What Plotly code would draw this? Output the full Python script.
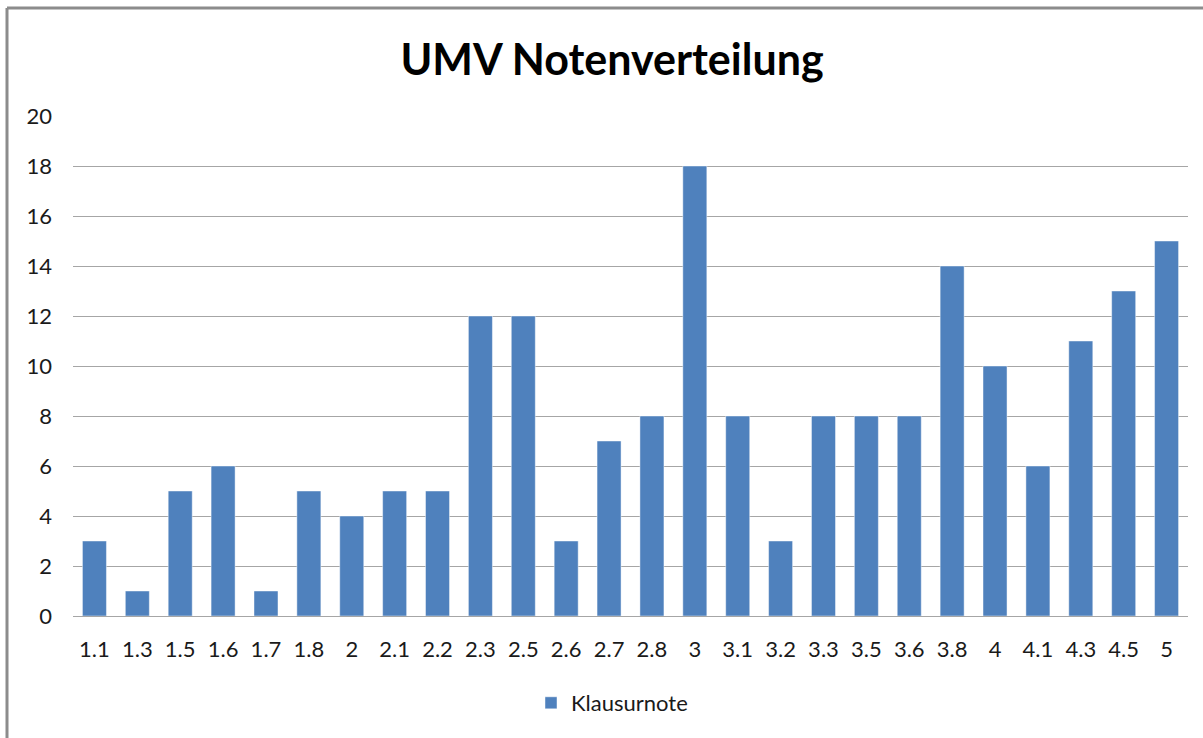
import plotly.graph_objects as go

categories = ["1.1", "1.3", "1.5", "1.6", "1.7", "1.8", "2", "2.1", "2.2", "2.3", "2.5", "2.6", "2.7",
              "2.8", "3", "3.1", "3.2", "3.3", "3.5", "3.6", "3.8", "4", "4.1", "4.3", "4.5", "5"]
values = [3, 1, 5, 6, 1, 5, 4, 5, 5, 12, 12, 3, 7, 8, 18, 8, 3, 8, 8, 8, 14, 10, 6, 11, 13, 15]
series_name = "Klausurnote"
y_ticks = [0, 2, 4, 6, 8, 10, 12, 14, 16, 18, 20]

FONT = "Lato, 'Open Sans', sans-serif"
W, H = 1203, 738
L, R, T, B = 73, 15, 116, 122
pw, ph = W - L - R, H - T - B

fig = go.Figure()
fig.add_trace(go.Bar(
    x=categories, y=values, name=series_name,
    marker=dict(color="#4F81BD", line=dict(color="rgba(255,255,255,0.45)", width=1)),
    showlegend=True,
))

fig.update_layout(
    width=W, height=H,
    margin=dict(l=L, r=R, t=T, b=B),
    paper_bgcolor="white", plot_bgcolor="white",
    font=dict(family=FONT, color="#1a1a1a", size=22),
    bargap=0.44,
    title=dict(text="<b>UMV Notenverteilung</b>", x=612 / W, xanchor="center",
               y=1 - 60 / H, yanchor="middle", yref="container",
               font=dict(size=43, family=FONT, color="#000000")),
    xaxis=dict(type="category", showgrid=False, showline=True, linecolor="#A6A6A6", linewidth=1,
               ticks="", tickfont=dict(size=22), ticklabelstandoff=14, fixedrange=True),
    yaxis=dict(range=[0, 20], tickvals=y_ticks, showgrid=True, gridcolor="#A6A6A6", gridwidth=1,
               zeroline=False, showline=False, ticks="", tickfont=dict(size=22),
               ticklabelstandoff=20),
    legend=dict(orientation="h", x=(612 - L) / pw, xanchor="center",
                y=(T + ph - 703) / ph, yanchor="middle", font=dict(size=22),
                itemwidth=30),
    shapes=[
        dict(type="line", xref="paper", yref="paper", x0=(7 - L) / pw, x1=1.2,
             y0=1 + (T - 8) / ph, y1=1 + (T - 8) / ph, line=dict(color="#8C8C8C", width=3)),
        dict(type="line", xref="paper", yref="paper", x0=(7 - L) / pw, x1=(7 - L) / pw,
             y0=1 + (T - 8) / ph, y1=-0.5, line=dict(color="#8C8C8C", width=3)),
    ],
)

fig.write_html("out.html", config={"displayModeBar": False},
               post_script="document.body.style.margin='0';document.body.style.padding='0';")
